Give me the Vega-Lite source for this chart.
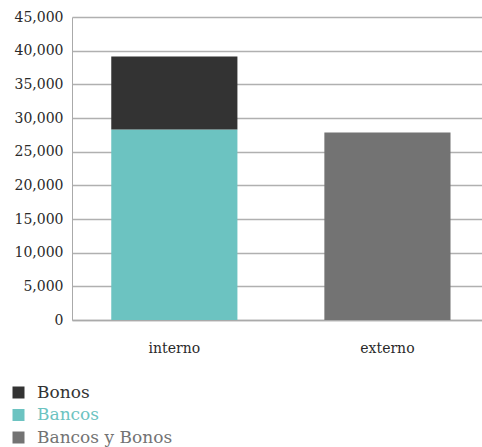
{
  "$schema": "https://vega.github.io/schema/vega-lite/v6.json",
  "width": 410,
  "height": 303,
  "autosize": "none",
  "padding": {"left": 72, "top": 17, "right": 0, "bottom": 127},
  "background": "white",
  "data": {
    "values": [
      {"tipo": "interno", "serie": "Bancos", "valor": 28300},
      {"tipo": "interno", "serie": "Bonos", "valor": 10850},
      {"tipo": "externo", "serie": "Bancos y Bonos", "valor": 27850}
    ]
  },
  "mark": {"type": "bar"},
  "encoding": {
    "x": {
      "field": "tipo",
      "type": "nominal",
      "sort": ["interno", "externo"],
      "scale": {"paddingInner": 0.408, "paddingOuter": 0.166, "align": 0.555},
      "axis": {
        "title": null,
        "labelAngle": 0,
        "ticks": false,
        "labelPadding": 21,
        "labelFont": "DejaVu Serif",
        "labelFontSize": 14,
        "labelColor": "#2a2a2a",
        "domainColor": "#aaaaaa",
        "domainWidth": 1.5
      }
    },
    "y": {
      "field": "valor",
      "type": "quantitative",
      "stack": "zero",
      "scale": {"domain": [0, 45000], "nice": false},
      "axis": {
        "title": null,
        "values": [0, 5000, 10000, 15000, 20000, 25000, 30000, 35000, 40000, 45000],
        "format": ",d",
        "ticks": false,
        "labelPadding": 9,
        "labelFont": "DejaVu Serif",
        "labelFontSize": 14,
        "labelColor": "#2a2a2a",
        "gridColor": "#b0b0b0",
        "gridWidth": 1.5,
        "domainColor": "#aaaaaa",
        "domainWidth": 1
      }
    },
    "order": {"field": "serie", "sort": "ascending"},
    "color": {
      "field": "serie",
      "type": "nominal",
      "scale": {
        "domain": ["Bonos", "Bancos", "Bancos y Bonos"],
        "range": ["#333333", "#6cc3c1", "#737373"]
      },
      "legend": {
        "title": null,
        "orient": "none",
        "legendX": -62,
        "legendY": 367,
        "symbolType": "square",
        "symbolSize": 144,
        "symbolStrokeWidth": 0,
        "labelFont": "DejaVu Serif",
        "labelFontSize": 17,
        "labelOffset": 10,
        "rowPadding": 4.5,
        "padding": 0,
        "encode": {
          "labels": {"update": {"fill": {"scale": "color", "field": "value"}}}
        }
      }
    }
  },
  "config": {"view": {"stroke": null}}
}
